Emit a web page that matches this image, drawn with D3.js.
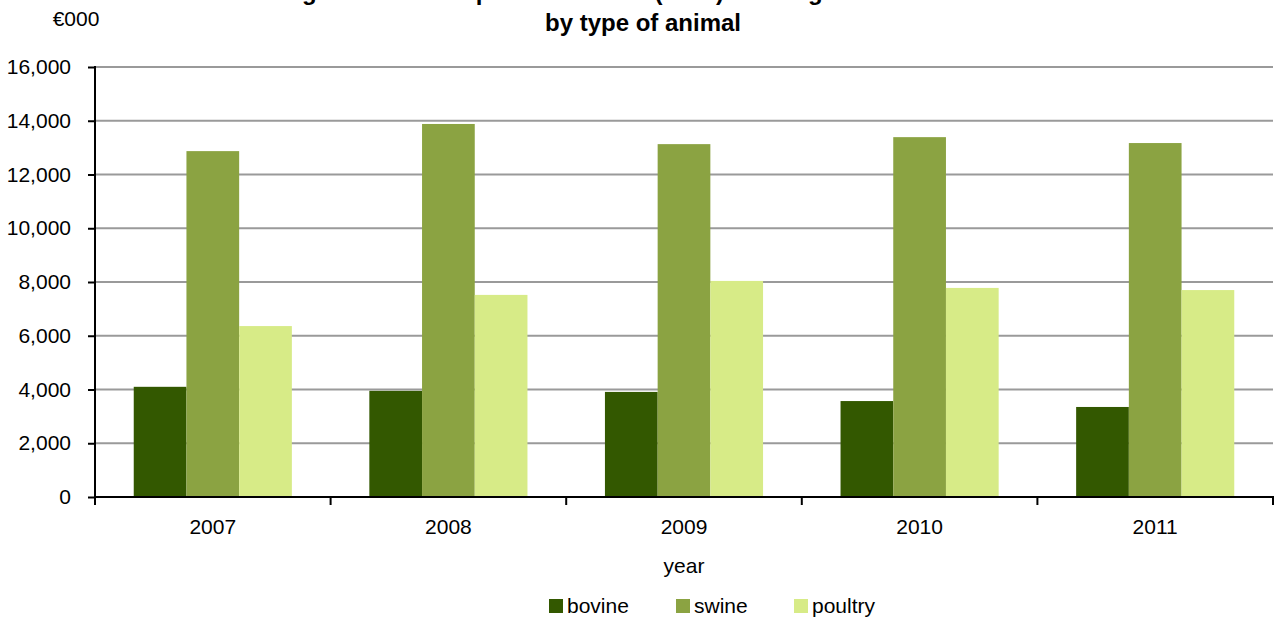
<!DOCTYPE html>
<html>
<head>
<meta charset="utf-8">
<script src="https://cdn.jsdelivr.net/npm/d3@7"></script>
<style>
  html, body { margin: 0; padding: 0; background: #fff; }
  svg { display: block; }
  text { font-family: "Liberation Sans", Arial, sans-serif; fill: #000; }
</style>
</head>
<body>
<svg id="chart" width="1274" height="620"></svg>
<script>
const years = ["2007", "2008", "2009", "2010", "2011"];
const seriesNames = ["bovine", "swine", "poultry"];
const bovine = [4100, 3950, 3910, 3570, 3350];
const swine = [12870, 13880, 13130, 13390, 13170];
const poultry = [6360, 7520, 8040, 7780, 7700];
const yTicks = [0, 2000, 4000, 6000, 8000, 10000, 12000, 14000, 16000];
const titleLines = ["Figure 1: Annual producer value (€000) of slaughtered livestock", "by type of animal"];
const yUnit = "€000";
const xTitle = "year";

const colors = { bovine: "#335800", swine: "#8ba342", poultry: "#d7eb87" };
const values = { bovine, swine, poultry };

const svg = d3.select("#chart");
const mLeft = 95, mRight = 1273, mTop = 67, mBottom = 497;
const fs = 21;

const x = d3.scaleBand().domain(years).range([mLeft, mRight]).paddingInner(0).paddingOuter(0);
const inner = d3.scaleBand().domain(seriesNames).range([0, x.bandwidth()]).paddingInner(0).paddingOuter(0.735);
const y = d3.scaleLinear().domain([0, 16000]).range([mBottom, mTop]);

// gridlines
svg.append("g").selectAll("line").data(yTicks.filter(d => d > 0)).join("line")
  .attr("x1", mLeft).attr("x2", mRight)
  .attr("y1", d => y(d)).attr("y2", d => y(d))
  .attr("stroke", "#9a9a9a").attr("stroke-width", 2);

// bars
const groups = svg.append("g").selectAll("g").data(years).join("g")
  .attr("transform", d => `translate(${x(d)},0)`);
groups.selectAll("rect").data((yr, i) => seriesNames.map(s => ({ s, v: values[s][i] }))).join("rect")
  .attr("x", d => inner(d.s)).attr("width", inner.bandwidth())
  .attr("y", d => y(d.v)).attr("height", d => y(0) - y(d.v))
  .attr("fill", d => colors[d.s]);

// y axis
const yAxis = d3.axisLeft(y).tickValues(yTicks).tickSize(7).tickPadding(17)
  .tickFormat(d3.format(","));
const gy = svg.append("g").attr("transform", `translate(${mLeft},0)`).call(yAxis);
gy.select(".domain").remove();
gy.selectAll(".tick line").attr("stroke", "#000").attr("stroke-width", 2);
gy.selectAll(".tick text").attr("font-size", fs).attr("font-family", "Liberation Sans, Arial, sans-serif").attr("fill", "#000");
svg.append("line").attr("x1", mLeft).attr("x2", mLeft).attr("y1", mTop - 1).attr("y2", mBottom + 8)
  .attr("stroke", "#000").attr("stroke-width", 2);

// x axis
const xAxis = d3.axisBottom(x).tickSize(0).tickPadding(22);
const gx = svg.append("g").attr("transform", `translate(0,${mBottom})`).call(xAxis);
gx.select(".domain").remove();
gx.selectAll(".tick text").attr("font-size", fs).attr("font-family", "Liberation Sans, Arial, sans-serif").attr("fill", "#000");
svg.append("line").attr("x1", mLeft).attr("x2", mRight + 1).attr("y1", mBottom).attr("y2", mBottom)
  .attr("stroke", "#000").attr("stroke-width", 2);
svg.append("g").selectAll("line").data(years).join("line")
  .attr("x1", d => x(d) + x.bandwidth()).attr("x2", d => x(d) + x.bandwidth())
  .attr("y1", mBottom).attr("y2", mBottom + 8)
  .attr("stroke", "#000").attr("stroke-width", 2);

// titles (first line is cropped at the top edge, as in the reference)
svg.append("text").attr("x", 643).attr("y", 0).attr("text-anchor", "middle")
  .attr("font-size", 24).attr("font-weight", "bold").text(titleLines[0]);
svg.append("text").attr("x", 643).attr("y", 31).attr("text-anchor", "middle")
  .attr("font-size", 24).attr("font-weight", "bold").text(titleLines[1]);
svg.append("text").attr("x", 76).attr("y", 26).attr("text-anchor", "middle")
  .attr("font-size", fs).text(yUnit);
svg.append("text").attr("x", 684).attr("y", 573).attr("text-anchor", "middle")
  .attr("font-size", fs).text(xTitle);

// legend
const legendX = [549, 676, 794];
const lg = svg.append("g").selectAll("g").data(seriesNames).join("g")
  .attr("transform", (d, i) => `translate(${legendX[i]},599)`);
lg.append("rect").attr("width", 14).attr("height", 14).attr("fill", d => colors[d]);
lg.append("text").attr("x", 18).attr("y", 14).attr("font-size", fs).text(d => d);
</script>
</body>
</html>
